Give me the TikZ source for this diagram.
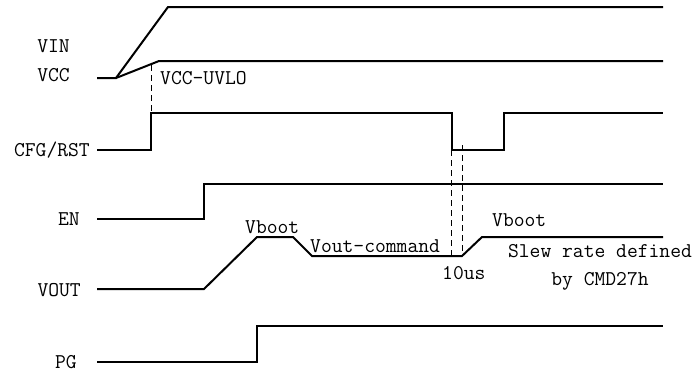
\documentclass[tikz,border=0pt]{standalone}
\usepackage{tikz}

\begin{document}
\begin{tikzpicture}[
	x=1pt, y=-1pt, % pixel-like units, y axis pointing down
	% Style for the signal traces
	wave/.style={
		draw=black,
		line width=2pt,
		line join=miter
	},
	% Style for the dashed timing markers
	marker/.style={
		draw=black,
		line width=1pt,
		dash pattern=on 6pt off 4pt
	},
	% Style for the signal names on the left
	signame/.style={
		anchor=east,
		inner sep=0pt,
		font=\fontsize{21}{24}\selectfont\ttfamily
	},
	% Style for the notes along the traces
	note/.style={
		anchor=west,
		inner sep=0pt,
		font=\fontsize{21}{28}\selectfont\ttfamily
	}
	]
	\useasboundingbox (0,0) rectangle (700,373);
	
	% 1. Signal names
	\node[signame] (VIN) at (70,46) {VIN};
	\node[signame] (VCC) at (70,75) {VCC};
	\node[signame] (CFG) at (90,150) {CFG/RST};
	\node[signame] (EN) at (80,219) {EN};
	\node[signame] (VOUT) at (81,290) {VOUT};
	\node[signame] (PG) at (77,362) {PG};
	
	% 2. Signal traces
	% VIN and VCC share the same start
	\draw[wave] (97,78) -- (116,78) -- (168,7) -- (663,7);
	\draw[wave] (116,78) -- (159,61) -- (663,61);
	
	% CFG/RST with the reset pulse
	\draw[wave] (97,150) -- (151,150) -- (151,113) -- (452,113)
		-- (452,150) -- (504,150) -- (504,113) -- (663,113);
	
	% EN
	\draw[wave] (97,219) -- (204,219) -- (204,184) -- (663,184);
	
	% VOUT
	\draw[wave] (97,289) -- (204,289) -- (257,237) -- (293,237)
		-- (312,256) -- (462,256) -- (482,237) -- (663,237);
	
	% PG
	\draw[wave] (97,362) -- (257,362) -- (257,326) -- (663,326);
	
	% 3. Dashed timing markers
	\draw[marker] (151,65) -- (151,113);
	\draw[marker] (451,150) -- (451,256);
	\draw[marker] (462,145) -- (462,256);
	
	% 4. Notes
	\node[note] (uvlo) at (160,78) {VCC-UVLO};
	\node[note] (boot1) at (245,227) {Vboot};
	\node[note] (vcmd) at (310,246) {Vout-command};
	\node[note] (boot2) at (492,220) {Vboot};
	\node[note] (delay) at (442,273) {10us};
	\node[note, anchor=center, align=center] (slew) at (600,267) {Slew rate defined\\by CMD27h};
	
\end{tikzpicture}
\end{document}
